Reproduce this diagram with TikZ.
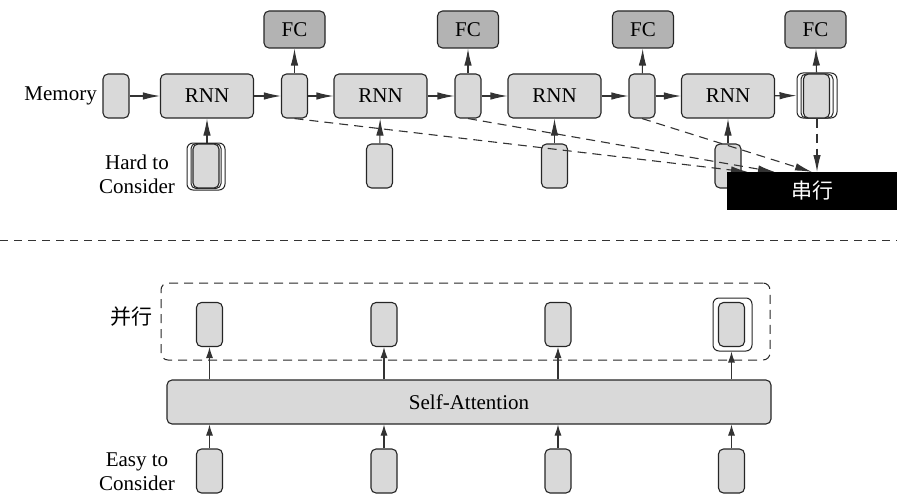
\documentclass[tikz,border=0pt]{standalone}
\usepackage{fontspec}
\setmainfont{Liberation Serif}
\newfontfamily\cjk{Noto Sans CJK SC}
\usetikzlibrary{arrows.meta}
\definecolor{cellgray}{HTML}{D9D9D9}
\definecolor{fcgray}{HTML}{B3B3B3}
\begin{document}
\begin{tikzpicture}[x=1pt,y=-1pt,
  every node/.style={font=\fontsize{21}{24}\selectfont, inner sep=0pt},
  cell/.style={draw=black!85, line width=1.1pt, fill=cellgray, rounded corners=5pt,
    minimum width=26pt, minimum height=44pt},
  rnnbox/.style={cell, minimum width=93pt},
  fcbox/.style={draw=black!85, line width=1.1pt, fill=fcgray, rounded corners=5pt,
    minimum width=61pt, minimum height=37pt},
  outerbox/.style={draw=black!85, line width=1pt, fill=white, rounded corners=6pt},
  midbox/.style={draw=black!85, line width=1pt, rounded corners=5pt},
  arr/.style={draw=black!80, line width=1.1pt, -{Latex[length=17pt,width=7.5pt]}},
  sarr/.style={draw=black!80, line width=1.1pt, -{Latex[length=11pt,width=7pt]}},
  darr/.style={arr, dash pattern=on 9pt off 6pt},
]
\useasboundingbox (0,0) rectangle (897,495);

% ---------- recurrent chain ----------
\node[cell] (m) at (116,96) {};
\node[anchor=east] (memlbl) at (97,96) {Memory};

\node[rnnbox] (r1) at (207,96) {RNN};
\node[rnnbox] (r2) at (380.5,96) {RNN};
\node[rnnbox] (r3) at (554.5,96) {RNN};
\node[rnnbox] (r4) at (728,96) {RNN};

\node[cell] (h1) at (294.5,96) {};
\node[cell] (h2) at (468,96) {};
\node[cell] (h3) at (642,96) {};
\node[outerbox, minimum width=40pt, minimum height=45pt] (h4o) at (817,95.5) {};
\node[midbox, minimum width=32pt, minimum height=44pt] (h4m) at (817,96) {};
\node[cell] (h4) at (816.5,96) {};

\node[fcbox] (f1) at (294.5,29.5) {FC};
\node[fcbox] (f2) at (468,29.5) {FC};
\node[fcbox] (f3) at (643,29.5) {FC};
\node[fcbox] (f4) at (815.5,29.5) {FC};

% inputs of the chain
\node[outerbox, minimum width=38pt, minimum height=47pt] (x1o) at (206,166.5) {};
\node[midbox, minimum width=30pt, minimum height=45pt] (x1m) at (206,166) {};
\node[cell] (x1) at (206,166) {};
\node[cell] (x2) at (379.5,166) {};
\node[cell] (x3) at (554.5,166) {};
\node[cell] (x4) at (728,166) {};
\node[align=center] (hard) at (137,174) {Hard to\\Consider};

\draw[arr] (m) -- (r1);
\draw[arr] (r1) -- (h1);
\draw[arr] (h1) -- (r2);
\draw[arr] (r2) -- (h2);
\draw[arr] (h2) -- (r3);
\draw[arr] (r3) -- (h3);
\draw[arr] (h3) -- (r4);
\draw[arr] (r4) -- (h4o);

\draw[arr] (h1) -- (f1);
\draw[arr] (h2) -- (f2);
\draw[arr] (h3) -- (f3);
\draw[arr] (h4o) -- (f4);

\draw[arr] (x1o.north -| r1) -- (r1);
\draw[arr] (x2) -- (r2);
\draw[arr] (x3) -- (r3);
\draw[arr] (x4) -- (r4);

% serial collection
\coordinate (e1) at (748,172);
\coordinate (e2) at (775,172);
\coordinate (e3) at (812,172);
\coordinate (e4) at (817,172);
\draw[darr] (h1.south) -- (e1);
\draw[darr] (h2.south) -- (e2);
\draw[darr] (h3.south) -- (e3);
\draw[darr] (h4o.south) -- (e4);

\node[fill=black, text=white, minimum width=170pt, minimum height=38pt]
  (ser) at (812,191) {\cjk 串行};

% ---------- separator ----------
\coordinate (sepL) at (0,240);
\coordinate (sepR) at (897,240);
\draw[black!80, line width=1pt, dash pattern=on 8pt off 6pt] (sepL) -- (sepR);

% ---------- self-attention ----------
\node[draw=black!85, line width=1pt, dash pattern=on 9pt off 6pt, rounded corners=7pt,
  minimum width=609pt, minimum height=77pt] (par) at (465.5,321.5) {};
\node (parlbl) at (131,317) {\cjk 并行};

\node[cell] (o1) at (209.5,324.5) {};
\node[cell] (o2) at (384,324.5) {};
\node[cell] (o3) at (558,324.5) {};
\node[outerbox, minimum width=39pt, minimum height=53pt] (o4o) at (732.5,324.5) {};
\node[cell] (o4) at (731.5,324.5) {};

\node[cell, minimum width=604pt] (sa) at (469,402) {Self-Attention};

\node[cell] (i1) at (209.5,471) {};
\node[cell] (i2) at (384,471) {};
\node[cell] (i3) at (558,471) {};
\node[cell] (i4) at (731.5,471) {};
\node[align=center] (easy) at (137,472) {Easy to\\Consider};

\draw[sarr] (sa.north -| o1) -- (o1);
\draw[sarr] (sa.north -| o2) -- (o2);
\draw[sarr] (sa.north -| o3) -- (o3);
\draw[sarr] (sa.north -| o4) -- (o4o.south -| o4);

\draw[sarr] (i1) -- (sa.south -| i1);
\draw[sarr] (i2) -- (sa.south -| i2);
\draw[sarr] (i3) -- (sa.south -| i3);
\draw[sarr] (i4) -- (sa.south -| i4);
\end{tikzpicture}
\end{document}
